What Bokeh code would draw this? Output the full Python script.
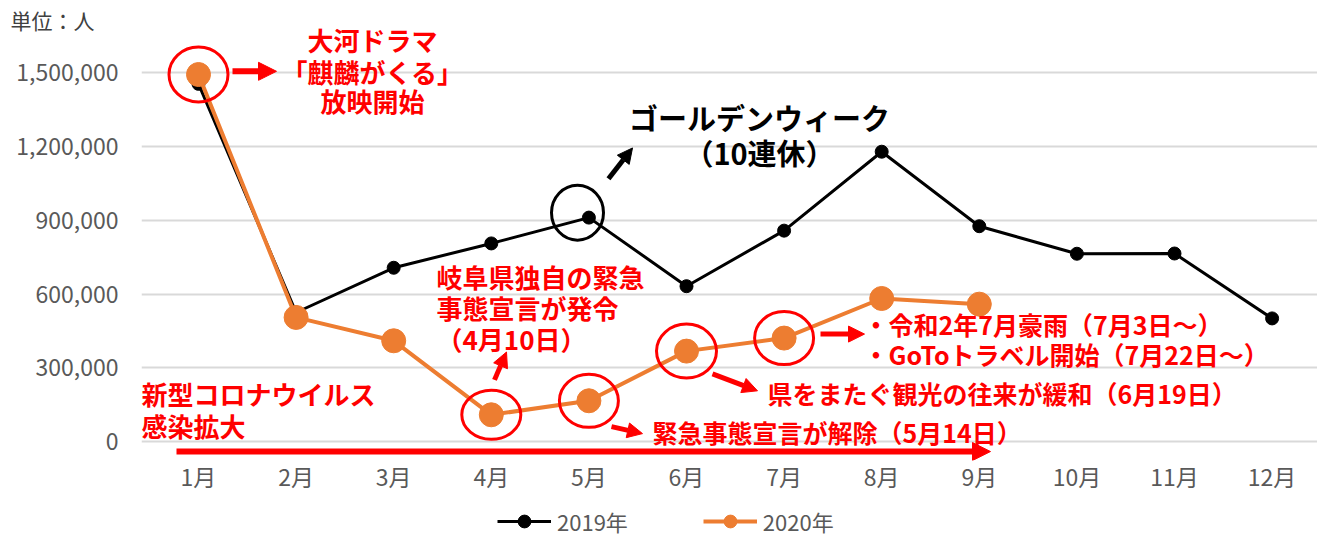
from bokeh.plotting import figure
from bokeh.layouts import column
from bokeh.models import (FixedTicker, NumeralTickFormatter, Label, Arrow, NormalHead,
                          Legend, LegendItem, Range1d)
from bokeh.embed import file_html
from bokeh.resources import INLINE

# ---- data ----
month_idx = [1, 2, 3, 4, 5, 6, 7, 8, 9, 10, 11, 12]
month_labels = ["1月", "2月", "3月", "4月", "5月", "6月", "7月", "8月", "9月", "10月", "11月", "12月"]
visitors_2019 = [1455000, 525000, 707000, 806000, 911000, 632000, 858000, 1179000, 876000, 764000, 765000, 501000]
months_2020 = [1, 2, 3, 4, 5, 6, 7, 8, 9]
visitors_2020 = [1493000, 505000, 410000, 109000, 166000, 368000, 421000, 582000, 559000]
y_ticks = [0, 300000, 600000, 900000, 1200000, 1500000]
series_names = ["2019年", "2020年"]

FONT = "Noto Sans CJK JP"
RED = "#ff0000"
ORANGE = "#ed7d31"

W = 1317
MAIN_H = 495
FRAME_L, FRAME_R, FRAME_T, FRAME_B = 141, 1317, 28, 462

# pixel helpers for annotation placement (canvas px -> data)
def px(x):
    return 1 + (x - 198) / 97.6

def py(y):
    return (443 - y) / 74.1 * 300000

p = figure(width=W, height=MAIN_H, output_backend="svg", toolbar_location=None,
           x_range=Range1d(px(FRAME_L), px(FRAME_R)), y_range=Range1d(py(FRAME_B), py(FRAME_T)),
           min_border_left=FRAME_L, min_border_right=0, min_border_top=FRAME_T,
           min_border_bottom=MAIN_H - FRAME_B)
p.outline_line_color = None
p.xgrid.visible = False
p.ygrid.grid_line_color = "#d9d9d9"
p.ygrid.grid_line_width = 2

# unit caption as the plot title, pulled to the left edge
p.title.text = "単位：人"
p.title.align = "left"
p.title.offset = 10 - FRAME_L
p.title.standoff = -13
p.title.text_font = FONT
p.title.text_font_style = "normal"
p.title.text_font_size = "21px"
p.title.text_color = "#404040"

p.xaxis.ticker = FixedTicker(ticks=month_idx)
p.xaxis.major_label_overrides = {m: lab for m, lab in zip(month_idx, month_labels)}
p.yaxis.ticker = FixedTicker(ticks=y_ticks)
p.yaxis.formatter = NumeralTickFormatter(format="0,0")
for ax in (p.xaxis, p.yaxis):
    ax.axis_line_color = None
    ax.major_tick_line_color = None
    ax.minor_tick_line_color = None
    ax.major_label_text_font = FONT
    ax.major_label_text_font_size = "23px"
    ax.major_label_text_color = "#595959"
p.yaxis.major_label_standoff = 17
p.xaxis.major_label_standoff = -8

# ---- series ----
l19 = p.line(month_idx, visitors_2019, line_color="black", line_width=3)
s19 = p.scatter(month_idx, visitors_2019, size=13, fill_color="black", line_color="black")
l20 = p.line(months_2020, visitors_2020, line_color=ORANGE, line_width=4)
s20 = p.scatter(months_2020, visitors_2020, size=24, fill_color=ORANGE, line_color=ORANGE)

# ---- circles around points ----
circ_x = [1, 4, 5, 6, 7]
circ_w = [59, 59, 59, 60, 59]
circ_h = [55, 49, 53, 54, 53]
p.ellipse(x=circ_x, y=[visitors_2020[m - 1] for m in circ_x], width=circ_w, height=circ_h,
          width_units="screen", height_units="screen",
          fill_color=None, line_color=RED, line_width=3)
p.ellipse(x=[px(577)], y=[py(213)], width=52, height=55, width_units="screen", height_units="screen",
          fill_color=None, line_color="black", line_width=3)

# ---- arrows ----
def arrow(x0, y0, x1, y1, color, lw, size):
    p.add_layout(Arrow(end=NormalHead(size=size, fill_color=color, line_color=color, line_width=1),
                       x_start=px(x0), y_start=py(y0), x_end=px(x1), y_end=py(y1),
                       line_color=color, line_width=lw))

arrow(232, 71, 276, 71, RED, 6, 18)
arrow(494, 381, 506, 353, RED, 5, 15)
arrow(611, 428, 642, 435, RED, 5, 15)
arrow(712, 375, 757, 392, RED, 5, 15)
arrow(820, 335, 864, 335, RED, 5, 16)
arrow(608, 179, 632, 148, "black", 5, 15)
arrow(176, 453, 990, 453, RED, 6, 18)

# ---- texts ----
def text(t, x, y, size, color=RED, align="left", bold=True):
    p.add_layout(Label(x=px(x), y=py(y), text=t, text_font=FONT,
                       text_font_style="bold" if bold else "normal",
                       text_font_size=f"{size}px", text_color=color,
                       text_align=align, text_baseline="middle"))

text("大河ドラマ", 372, 39, 26, align="center")
text("「麒麟がくる」", 372, 71, 26, align="center")
text("放映開始", 372, 100, 26, align="center")
text("ゴールデンウィーク", 759, 117, 29, color="black", align="center")
text("（10連休）", 759, 152, 29, color="black", align="center")
text("岐阜県独自の緊急", 436, 277, 26)
text("事態宣言が発令", 436, 308, 26)
text("（4月10日）", 436, 339, 26)
text("新型コロナウイルス", 141, 395, 26)
text("感染拡大", 141, 427, 26)
text("・令和2年7月豪雨（7月3日～）", 863, 325, 25)
text("・GoToトラベル開始（7月22日～）", 863, 355, 25)
text("県をまたぐ観光の往来が緩和（6月19日）", 767, 394, 25)
text("緊急事態宣言が解除（5月14日）", 652, 433, 25)

# ---- legend strip below the chart (its frame is aligned with the main frame) ----
LEG_H = 537 - MAIN_H
p2 = figure(width=W, height=LEG_H, output_backend="svg", toolbar_location=None,
            x_axis_type=None, y_axis_type=None, min_border=0,
            x_range=Range1d(1000, 1001), y_range=Range1d(-10, -9))
p2.outline_line_color = None
p2.grid.visible = False
# same series drawn out of view: only their legend samples show
kl19 = p2.line(month_idx, visitors_2019, line_color="black", line_width=3)
ks19 = p2.scatter(month_idx, visitors_2019, size=13, fill_color="black", line_color="black")
kl20 = p2.line(months_2020, visitors_2020, line_color=ORANGE, line_width=4)
ks20 = p2.scatter(months_2020, visitors_2020, size=13, fill_color=ORANGE, line_color=ORANGE)
legend = Legend(items=[LegendItem(label=series_names[0], renderers=[kl19, ks19]),
                       LegendItem(label=series_names[1], renderers=[kl20, ks20])],
                orientation="horizontal", location=(497 - FRAME_L, 0),
                glyph_width=54, glyph_height=32, label_standoff=6, spacing=75,
                padding=0, margin=0, border_line_color=None, background_fill_alpha=0,
                label_text_font=FONT, label_text_font_size="22px", label_text_color="#595959")
p2.add_layout(legend)

layout = column(p, p2, spacing=0)
open("out.html", "w").write(file_html(layout, INLINE))
